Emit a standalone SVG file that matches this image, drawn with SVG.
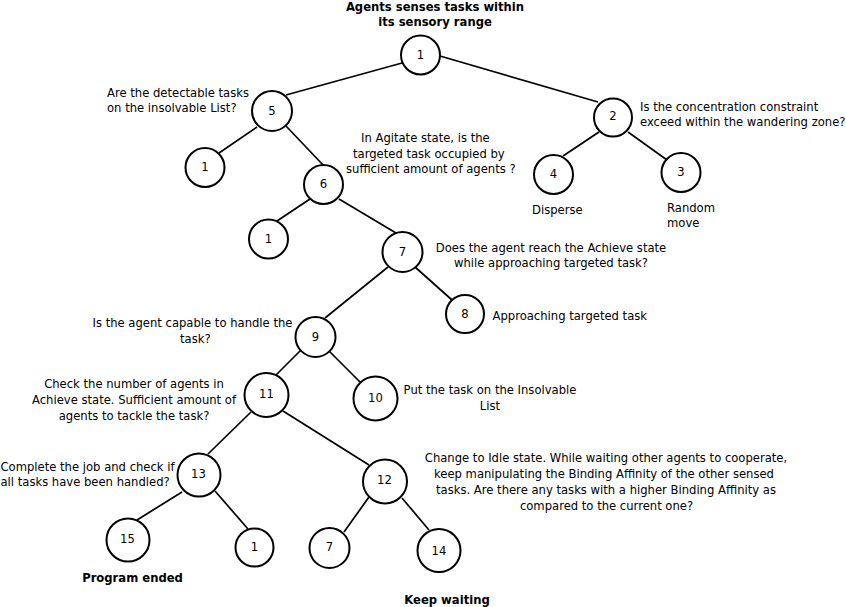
<svg xmlns="http://www.w3.org/2000/svg" width="846" height="607" viewBox="0 0 846 607">
<style>
.n{fill:#fff;stroke:#000;stroke-width:2}
.e{stroke:#000;stroke-width:1.7;fill:none}
text{font-family:"DejaVu Sans",sans-serif;font-size:11.6px;fill:#000}
.b{font-weight:bold}
.m{text-anchor:middle}
</style>
<rect width="846" height="607" fill="#fff"/>
<g id="connectors">
<line class="e" x1="402" y1="63" x2="286" y2="95"/>
<line class="e" x1="440" y1="56" x2="598" y2="102"/>
<line class="e" x1="599" y1="132" x2="563" y2="156"/>
<line class="e" x1="628" y1="132" x2="667" y2="160"/>
<line class="e" x1="257" y1="127" x2="219" y2="153"/>
<line class="e" x1="286" y1="126" x2="324" y2="166"/>
<line class="e" x1="310" y1="199" x2="277" y2="221"/>
<line class="e" x1="339" y1="199" x2="396" y2="233"/>
<line class="e" x1="388" y1="267" x2="325" y2="318"/>
<line class="e" x1="415" y1="267" x2="452" y2="300"/>
<line class="e" x1="301" y1="350" x2="276" y2="375"/>
<line class="e" x1="329" y1="351" x2="360" y2="382"/>
<line class="e" x1="251" y1="412" x2="208" y2="454"/>
<line class="e" x1="283" y1="411" x2="369" y2="465"/>
<line class="e" x1="182" y1="492" x2="137" y2="520"/>
<line class="e" x1="215" y1="491" x2="248" y2="529"/>
<line class="e" x1="369" y1="497" x2="344" y2="532"/>
<line class="e" x1="402" y1="498" x2="429" y2="530"/>
</g>
<g id="n1"><circle class="n" cx="420.5" cy="55" r="19.5"/><text class="m" x="420.5" y="58.5">1</text></g>
<g id="n5"><circle class="n" cx="272" cy="111" r="20"/><text class="m" x="272" y="114.5">5</text></g>
<g id="n2"><circle class="n" cx="613" cy="117.5" r="19"/><text class="m" x="613" y="120">2</text></g>
<g id="n1a"><circle class="n" cx="205" cy="167.5" r="19.5"/><text class="m" x="205" y="171">1</text></g>
<g id="n6"><circle class="n" cx="323.5" cy="184.5" r="19.5"/><text class="m" x="323.5" y="188">6</text></g>
<g id="n4"><circle class="n" cx="553.5" cy="174.5" r="19.5"/><text class="m" x="553.5" y="177.5">4</text></g>
<g id="n3"><circle class="n" cx="681" cy="172.5" r="19.5"/><text class="m" x="681" y="176">3</text></g>
<g id="n1b"><circle class="n" cx="268.5" cy="239" r="19.5"/><text class="m" x="268.5" y="242.5">1</text></g>
<g id="n7a"><circle class="n" cx="402.5" cy="252" r="20"/><text class="m" x="402.5" y="255.5">7</text></g>
<g id="n8"><circle class="n" cx="465" cy="314" r="19"/><text class="m" x="465" y="317.5">8</text></g>
<g id="n9"><circle class="n" cx="315.5" cy="337" r="20"/><text class="m" x="315.5" y="340.5">9</text></g>
<g id="n11"><circle class="n" cx="266.5" cy="395" r="22"/><text class="m" x="266.5" y="398">11</text></g>
<g id="n10"><circle class="n" cx="375.5" cy="398.5" r="22"/><text class="m" x="375.5" y="402">10</text></g>
<g id="n13"><circle class="n" cx="199" cy="475" r="21.5"/><text class="m" x="198.5" y="477.5">13</text></g>
<g id="n12"><circle class="n" cx="385" cy="481.5" r="22"/><text class="m" x="384.5" y="484">12</text></g>
<g id="n15"><circle class="n" cx="128" cy="540" r="21.5"/><text class="m" x="127.5" y="543">15</text></g>
<g id="n1c"><circle class="n" cx="254.5" cy="547.5" r="19"/><text class="m" x="254.5" y="551">1</text></g>
<g id="n7b"><circle class="n" cx="329.5" cy="548" r="20"/><text class="m" x="329.5" y="551">7</text></g>
<g id="n14"><circle class="n" cx="439" cy="550.5" r="21.5"/><text class="m" x="439" y="555">14</text></g>
<g id="labels">
<text class="b m" x="435" y="10.5">Agents senses tasks within</text>
<text class="b m" x="435" y="25.5">its sensory range</text>
<text x="107" y="96.5">Are the detectable tasks</text>
<text x="107" y="111.5">on the insolvable List?</text>
<text x="361" y="141.5">In Agitate state, is the</text>
<text x="353" y="157.5">targeted task occupied by</text>
<text x="346" y="173">sufficient amount of agents ?</text>
<text x="640" y="111">Is the concentration constraint</text>
<text x="640" y="126">exceed within the wandering zone?</text>
<text x="532" y="213.5">Disperse</text>
<text x="667" y="211.5">Random</text>
<text x="667" y="227">move</text>
<text class="m" x="551" y="251.5">Does the agent reach the Achieve state</text>
<text class="m" x="551" y="266.5">while approaching targeted task?</text>
<text x="492.5" y="320">Approaching targeted task</text>
<text x="92.5" y="326.5">Is the agent capable to handle the</text>
<text x="180" y="342.5">task?</text>
<text class="m" x="134" y="388">Check the number of agents in</text>
<text class="m" x="134" y="404">Achieve state. Sufficient amount of</text>
<text class="m" x="134" y="419.5">agents to tackle the task?</text>
<text class="m" x="490" y="394">Put the task on the Insolvable</text>
<text class="m" x="490" y="409.5">List</text>
<text x="0.5" y="470.5">Complete the job and check if</text>
<text x="0.5" y="485.5">all tasks have been handled?</text>
<text class="m" x="606" y="462">Change to Idle state. While waiting other agents to cooperate,</text>
<text class="m" x="604" y="478">keep manipulating the Binding Affinity of the other sensed</text>
<text class="m" x="606" y="494">tasks. Are there any tasks with a higher Binding Affinity as</text>
<text class="m" x="606.5" y="509.5">compared to the current one?</text>
<text class="b m" x="132.5" y="582">Program ended</text>
<text class="b m" x="447" y="603.5">Keep waiting</text>
</g>
</svg>
